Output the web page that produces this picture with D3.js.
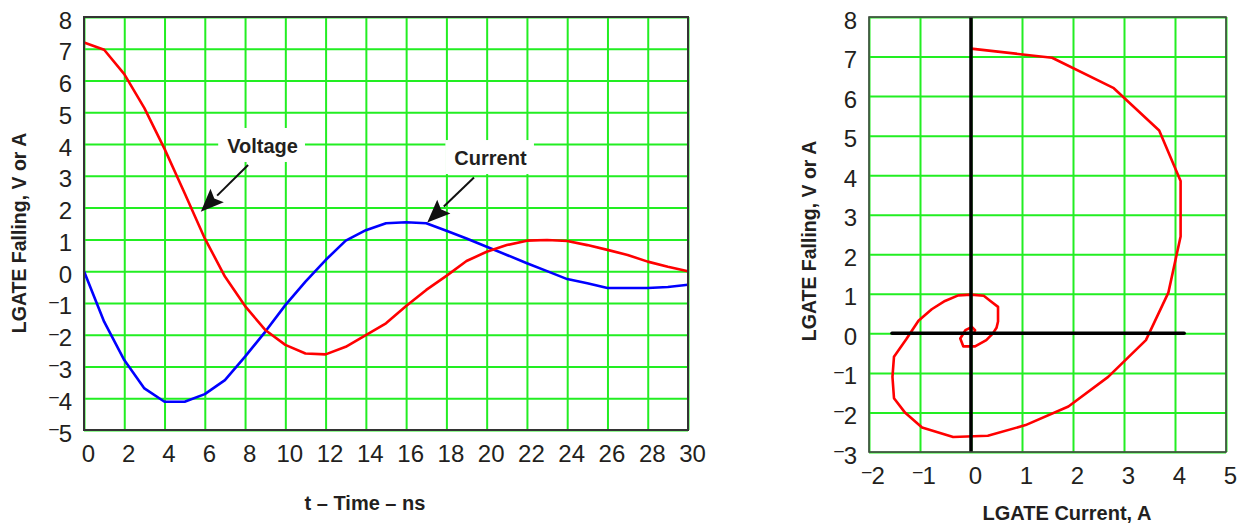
<!DOCTYPE html>
<html><head><meta charset="utf-8">
<script src="https://cdn.jsdelivr.net/npm/d3@7"></script>
<style>
html,body{margin:0;padding:0;background:#fff;}
svg{display:block;font-family:"Liberation Sans",Arial,Helvetica,sans-serif;}
</style></head><body><svg id="c" width="1244" height="525"></svg>
<script>
// ---------- data ----------
const timeNs  = [0,1,2,3,4,5,6,7,8,9,10,11,12,13,14,15,16,17,18,19,20,21,22,23,24,25,26,27,28,29,30];
const voltage = [7.20,6.97,6.20,5.13,3.85,2.45,1.03,-0.17,-1.10,-1.85,-2.32,-2.59,-2.62,-2.38,-2.01,-1.64,-1.10,-0.59,-0.15,0.32,0.61,0.82,0.96,0.98,0.95,0.82,0.67,0.51,0.30,0.14,0.00];
const current = [0.00,-1.59,-2.80,-3.69,-4.11,-4.11,-3.87,-3.43,-2.69,-1.91,-1.07,-0.33,0.35,0.96,1.29,1.51,1.54,1.51,1.27,1.03,0.77,0.51,0.25,0.00,-0.25,-0.38,-0.53,-0.53,-0.53,-0.50,-0.43];
// phase-plane continuation after 30 ns (LGATE current A, voltage V)
const tailCurrentA = [0.30,0.08,-0.15,-0.21,-0.11,0.02,0.08,0.06];
const tailVoltage  = [-0.17,-0.33,-0.33,-0.13,0.08,0.16,0.08,0.03];
const zeroLineCurrent = [-1.55, 4.18];

const leftXTicks  = d3.range(0, 31, 2);
const leftYTicks  = d3.range(-5, 9, 1);
const rightXTicks = d3.range(-2, 6, 1);
const rightYTicks = d3.range(-3, 9, 1);

// ---------- layout ----------
const svg = d3.select('#c');
const GRID = '#22ee22', TXT = '#231f20';
const L = {x0:84, x1:688, y0:17, y1:430};
const R = {x0:869, x1:1226, y0:17, y1:452};

const xL = d3.scaleLinear().domain([0,30]).range([L.x0, L.x1]);
const yL = d3.scaleLinear().domain([-5,8]).range([L.y1, L.y0]);
const xR = d3.scaleLinear().domain([-2,5]).range([R.x0, R.x1]);
const yR = d3.scaleLinear().domain([-3,8]).range([R.y1, R.y0]);

function tickLabel(sel){
  sel.each(function(v){
    const t = d3.select(this);
    t.text(null);
    if (v < 0){
      t.append('tspan').attr('font-size',17).attr('dy',-7.5).text('–');
      t.append('tspan').attr('dy',7.5).attr('dx',0).text(Math.abs(v));
    } else t.text(v);
  });
}

function panel(P, x, y, xt, yt){
  const g = svg.append('g');
  g.append('g').attr('transform',`translate(0,${P.y1})`)
    .call(d3.axisBottom(x).tickValues(xt).tickSize(-(P.y1-P.y0)).tickFormat(''))
    .call(a=>{a.select('.domain').remove(); a.selectAll('line').attr('stroke',GRID).attr('stroke-width',2);});
  g.append('g').attr('transform',`translate(${P.x0},0)`)
    .call(d3.axisLeft(y).tickValues(yt).tickSize(-(P.x1-P.x0)).tickFormat(''))
    .call(a=>{a.select('.domain').remove(); a.selectAll('line').attr('stroke',GRID).attr('stroke-width',2);});
  g.append('g').attr('transform',`translate(0,${P.y1})`)
    .call(d3.axisBottom(x).tickValues(xt).tickSize(0))
    .call(a=>{
      a.select('.domain').remove();
      a.selectAll('text').attr('y',32).attr('dy',null).attr('dx',4)
        .attr('font-size',24).attr('font-family','"Liberation Sans",Arial,sans-serif')
        .attr('fill',TXT).call(tickLabel);
    });
  g.append('g').attr('transform',`translate(${P.x0},0)`)
    .call(d3.axisLeft(y).tickValues(yt).tickSize(0))
    .call(a=>{
      a.select('.domain').remove();
      a.selectAll('text').attr('x',-12).attr('dy',null).attr('y',11)
        .attr('font-size',24).attr('font-family','"Liberation Sans",Arial,sans-serif')
        .attr('fill',TXT).call(tickLabel);
    });
  return g;
}

// ---------- left panel ----------
const gl = panel(L, xL, yL, leftXTicks, leftYTicks);
const lineL = d3.line().x(d=>xL(d[0])).y(d=>yL(d[1]));
const vPts = timeNs.map((t,i)=>[t, voltage[i]]);
const iPts = timeNs.map((t,i)=>[t, current[i]]);
gl.append('path').attr('d', lineL(iPts)).attr('fill','none').attr('stroke','#0000ff').attr('stroke-width',2.6).attr('stroke-linejoin','round');
gl.append('path').attr('d', lineL(vPts)).attr('fill','none').attr('stroke','#ff0000').attr('stroke-width',2.6).attr('stroke-linejoin','round');
gl.append('rect').attr('x',L.x0).attr('y',L.y0).attr('width',L.x1-L.x0).attr('height',L.y1-L.y0)
  .attr('fill','none').attr('stroke','#333').attr('stroke-width',2);

// annotations
const notes = [
  {text:'Voltage', at:[8.87,3.72], from:[8.15,3.34], to:[5.8,1.87]},
  {text:'Current', at:[20.19,3.34], from:[19.37,2.95], to:[17.05,1.53]}
];
notes.forEach(n=>{
  const t = gl.append('text').attr('x',xL(n.at[0])).attr('y',yL(n.at[1]))
    .attr('text-anchor','middle').attr('font-size',20).attr('font-weight','bold').attr('fill',TXT).text(n.text);
  const bb = t.node().getBBox();
  gl.insert('rect', function(){ return t.node(); })
    .attr('x',bb.x-9).attr('y',bb.y-7).attr('width',bb.width+16).attr('height',bb.height+12).attr('fill','#fff');
  const sx=xL(n.from[0]), sy=yL(n.from[1]), tx=xL(n.to[0]), ty=yL(n.to[1]);
  const dx=tx-sx, dy=ty-sy, len=Math.hypot(dx,dy), ux=dx/len, uy=dy/len;
  const bx=tx-ux*23, by=ty-uy*23, nx=-uy, ny=ux;
  gl.append('line').attr('x1',sx).attr('y1',sy).attr('x2',bx).attr('y2',by).attr('stroke','#111').attr('stroke-width',2);
  gl.append('path').attr('d',`M${tx},${ty}L${bx+nx*9.5},${by+ny*9.5}L${bx+ux*4},${by+uy*4}L${bx-nx*9.5},${by-ny*9.5}Z`).attr('fill','#111');
});

// titles
svg.append('text').attr('transform','translate(26,233) rotate(-90)').attr('text-anchor','middle')
  .attr('font-size',19.5).attr('font-weight','bold').attr('fill',TXT).text('LGATE Falling, V or A');
svg.append('text').attr('x',365).attr('y',510).attr('text-anchor','middle')
  .attr('font-size',20).attr('font-weight','bold').attr('fill',TXT).text('t – Time – ns');

// ---------- right panel ----------
const gr = panel(R, xR, yR, rightXTicks, rightYTicks);
const phase = timeNs.map((t,i)=>[-current[i], voltage[i]])
  .concat(tailCurrentA.map((c,i)=>[c, tailVoltage[i]]));
const lineR = d3.line().x(d=>xR(d[0])).y(d=>yR(d[1]));
gr.append('path').attr('d', lineR(phase)).attr('fill','none').attr('stroke','#ff0000').attr('stroke-width',2.6).attr('stroke-linejoin','round');
gr.append('line').attr('x1',xR(0)).attr('x2',xR(0)).attr('y1',R.y0).attr('y2',R.y1).attr('stroke','#000').attr('stroke-width',3.5);
gr.append('line').attr('x1',xR(zeroLineCurrent[0])).attr('x2',xR(zeroLineCurrent[1])).attr('y1',yR(0)).attr('y2',yR(0))
  .attr('stroke','#000').attr('stroke-width',3.5).attr('stroke-linecap','round');
gr.append('rect').attr('x',R.x0).attr('y',R.y0).attr('width',R.x1-R.x0).attr('height',R.y1-R.y0)
  .attr('fill','none').attr('stroke','#444').attr('stroke-width',1.6);

svg.append('text').attr('transform','translate(816,241) rotate(-90)').attr('text-anchor','middle')
  .attr('font-size',19.5).attr('font-weight','bold').attr('fill',TXT).text('LGATE Falling, V or A');
svg.append('text').attr('x',1067).attr('y',520).attr('text-anchor','middle')
  .attr('font-size',20).attr('font-weight','bold').attr('fill',TXT).text('LGATE Current, A');
</script></body></html>
